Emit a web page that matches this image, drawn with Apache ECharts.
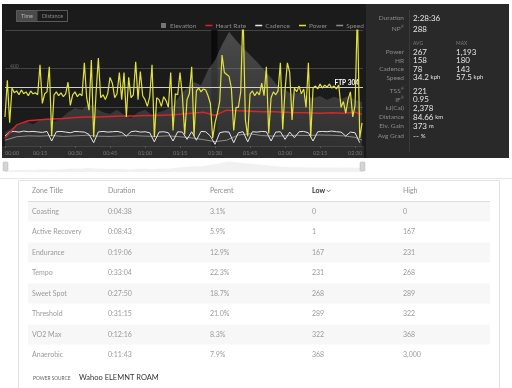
<!DOCTYPE html>
<html><head><meta charset="utf-8">
<script src="https://cdn.jsdelivr.net/npm/echarts@6/dist/echarts.min.js"></script>
<style>html,body{margin:0;padding:0;background:#fff}#c{width:512px;height:388px}</style>
</head><body><div id="c"></div>
<script>
// ---------- DATA ----------
const xTickMinutes = [0,15,30,45,60,75,90,105,120,135,150];
const xTickLabels = ['00:00','00:15','00:30','00:45','01:00','01:15','01:30','01:45','02:00','02:15','02:30'];
const powerTickValues = [400];
const ftpValue = 304;
// power, one value per minute from 00:00
const power = [150,340,120,300,275,285,265,290,270,280,
 260,285,270,275,265,420,220,270,280,410,
 50,265,280,260,275,255,270,330,210,265,
 280,255,270,260,430,250,185,445,45,270,
 455,250,265,240,270,355,325,250,270,380,
 240,380,150,355,250,265,435,240,385,260,
 240,205,255,420,45,250,240,205,255,235,
 200,380,80,270,265,380,260,60,240,270,
 410,50,285,300,280,295,290,260,220,40,
 120,170,230,470,380,370,360,300,80,200,
 200,280,700,135,50,270,285,260,280,265,
 325,260,410,65,250,280,265,285,430,85,
 290,430,380,135,300,280,310,270,295,200,
 430,45,300,310,295,320,300,315,305,320,
 300,310,295,315,200,230,170,240,280,150,
 210,700,40,120];
// elevation, one value every 3 minutes
const elevation = [30,39,45,52,47,56,60,52,60,73,
 82,78,91,82,73,69,78,67,60,73,
 78,67,73,78,86,110,125,138,131,164,
 185,218,246,228,211,196,181,164,147,129,
 121,112,116,108,103,108,99,106,101,108,
 99,95];
// cadence, one value every 2 minutes
const cadence = [60,85,88,84,90,86,88,85,82,88,
 30,86,88,84,80,88,86,84,70,20,
 85,88,84,86,88,82,60,86,90,84,
 86,80,25,84,86,80,30,86,84,40,
 86,35,88,86,60,10,80,86,84,20,
 80,86,25,86,84,88,86,30,84,86,
 40,84,50,86,88,80,30,86,88,86,
 90,86,84,60,84,80,20];
const hrTimes = [0,5,10,15,20,25,30,35,40,45,50,55,60,65,70,75,80,85,90,95,100,105,110,115,120,125,130,135,140,145,150,153];
const heartRate = [115,140,148,150,151,152,154,155,155,156,157,157,158,158,159,160,162,164,158,168,167,166,165,165,164,163,163,162,163,162,164,160];
const speed = [20,32,35,34,36,33,35,37,34,33,35,36,34,33,35,32,28,22,15,20,38,42,36,34,35,37,36,38,37,35,30,20];
const pauseRange = [88.4, 91.0];

const legendNames = ['Elevation','Heart Rate','Cadence','Power','Speed'];

const summaryLabels = ['Duration','NP'];
const summarySup = [false,true];
const summaryValues = ['2:28:36','288'];
const metricLabels = ['Power','HR','Cadence','Speed'];
const metricAvg = ['267','158','78','34.2'];
const metricMax = ['1,193','180','143','57.5'];
const metricUnits = ['','','','kph'];
const extraLabels = ['TSS','IF','kJ(Cal)','Distance','Elv. Gain','Avg Grad'];
const extraSup = [true,true,false,false,false,false];
const extraValues = ['221','0.95','2,378','84.66','373','--'];
const extraUnits = ['','','','km','m','%'];

const zoneHeaders = ['Zone Title','Duration','Percent','Low','High'];
const zoneNames = ['Coasting','Active Recovery','Endurance','Tempo','Sweet Spot','Threshold','VO2 Max','Anaerobic'];
const zoneDurations = ['0:04:38','0:08:43','0:19:06','0:33:04','0:27:50','0:31:15','0:12:16','0:11:43'];
const zonePercents = ['3.1%','5.9%','12.9%','22.3%','18.7%','21.0%','8.3%','7.9%'];
const zoneLows = ['0','1','167','231','268','289','322','368'];
const zoneHighs = ['0','167','231','268','289','322','368','3,000'];
const powerSourceLabel = 'POWER SOURCE';
const powerSource = 'Wahoo ELEMNT ROAM';

// ---------- RENDER ----------
const FONT = 'Lato, "Open Sans", sans-serif';
const chart = echarts.init(document.getElementById('c'), null, {renderer:'canvas'});

function T(text, x, y, o) {
  o = o || {};
  return {type:'text', x:x, y:y, z:100, silent:true, style:{
    text:text, fill:o.fill||'#999', fontSize:o.size||7, fontFamily:FONT,
    fontWeight:o.weight||'normal', textAlign:o.align||'left', align:o.align||'left',
    textVerticalAlign:'middle', verticalAlign:'middle', rich:o.rich}};
}
const g = [];
// dark panel
g.push({type:'rect', z:-10, silent:true, shape:{x:2,y:4,width:507,height:154}, style:{fill:'#1b1b1b'}});
g.push({type:'rect', z:-9, silent:true, shape:{x:2,y:146,width:362,height:12}, style:{fill:'#2c2c2c'}});
g.push({type:'rect', z:-9, silent:true, shape:{x:366,y:4,width:143,height:154}, style:{fill:'#292929'}});
g.push({type:'line', z:-8, silent:true, shape:{x1:409.5,y1:10,x2:409.5,y2:152}, style:{stroke:'#3a3a3a',lineWidth:1}});
// time/distance toggle
g.push({type:'rect', z:5, silent:true, shape:{x:16.5,y:10.5,width:51,height:11}, style:{fill:'none',stroke:'#5a5a5a',lineWidth:1}});
g.push({type:'rect', z:4, silent:true, shape:{x:16.5,y:10.5,width:21,height:11}, style:{fill:'#4a4a4a'}});
g.push(T('Time', 27, 16, {fill:'#b5b5b5', size:5.5, align:'center'}));
g.push(T('Distance', 52.5, 16, {fill:'#8a8a8a', size:5.5, align:'center'}));
// stats panel
const valRich = {v:{fill:'#e4e4e4',fontSize:8,fontFamily:FONT}, u:{fill:'#e4e4e4',fontSize:6,fontFamily:FONT}};
const labRich = {l:{fill:'#8a8a8a',fontSize:6.5,fontFamily:FONT}, s:{fill:'#8a8a8a',fontSize:4,fontFamily:FONT,verticalAlign:'top',padding:[0,0,4,0]}};
function lab(text, sup) { return sup ? '{l|'+text+'}{s|®}' : '{l|'+text+'}'; }
function val(v, u) { return u ? '{v|'+v+'} {u|'+u+'}' : '{v|'+v+'}'; }
const sumY = [18, 29];
summaryLabels.forEach((l,i)=>{
  g.push(T(lab(l, summarySup[i]), 404, sumY[i], {align:'right', rich:labRich}));
  g.push(T(val(summaryValues[i]), 413, sumY[i], {rich:valRich}));
});
g.push(T('AVG', 413, 43, {fill:'#7a7a7a', size:5}));
g.push(T('MAX', 456, 43, {fill:'#7a7a7a', size:5}));
const metY = [52, 60.5, 69, 77.5];
metricLabels.forEach((l,i)=>{
  g.push(T(lab(l,false), 404, metY[i], {align:'right', rich:labRich}));
  g.push(T(val(metricAvg[i], metricUnits[i]), 413, metY[i], {rich:valRich}));
  g.push(T(val(metricMax[i], metricUnits[i]), 456, metY[i], {rich:valRich}));
});
const extY = [91, 99.5, 108, 117, 126, 136];
extraLabels.forEach((l,i)=>{
  g.push(T(lab(l, extraSup[i]), 404, extY[i], {align:'right', rich:labRich}));
  g.push(T(val(extraValues[i], extraUnits[i]), 413, extY[i], {rich:valRich}));
});
// overview handles
g.push({type:'rect', z:20, silent:true, shape:{x:3,y:162,width:5,height:9,r:1}, style:{fill:'#d4d4d4',stroke:'#b5b5b5',lineWidth:0.5}});
g.push({type:'rect', z:20, silent:true, shape:{x:360,y:162,width:5,height:9,r:1}, style:{fill:'#d4d4d4',stroke:'#b5b5b5',lineWidth:0.5}});
g.push({type:'line', z:-5, silent:true, shape:{x1:0,y1:178.5,x2:512,y2:178.5}, style:{stroke:'#e6e6e6',lineWidth:1}});
// table card
g.push({type:'rect', z:-10, silent:true, shape:{x:18.5,y:180.5,width:481,height:230}, style:{fill:'#fff',stroke:'#e2e2e2',lineWidth:1}});
const colX = [32, 108, 210, 312, 403];
const rowY = zoneNames.map((_,i)=>211.5 + 20.5*i);
rowY.forEach((y,i)=>{ if (i%2===0) g.push({type:'rect', z:-8, silent:true, shape:{x:28,y:y-10,width:462,height:20}, style:{fill:'#f7f7f7'}}); });
g.push({type:'line', z:-7, silent:true, shape:{x1:28,y1:201.5,x2:490,y2:201.5}, style:{stroke:'#dedede',lineWidth:1}});
zoneHeaders.forEach((h,i)=>{
  const isLow = i===3;
  g.push(T(h, colX[i], 191, {fill: isLow?'#333':'#8f8f8f', size:7, weight: isLow?'bold':'normal'}));
});
g.push({type:'polyline', z:100, silent:true, shape:{points:[[326.5,189.8],[328.5,191.8],[330.5,189.8]]}, style:{stroke:'#555',lineWidth:0.8,fill:'none'}});
zoneNames.forEach((n,i)=>{
  const cols = [n, zoneDurations[i], zonePercents[i], zoneLows[i], zoneHighs[i]];
  cols.forEach((c,j)=> g.push(T(c, colX[j], rowY[i], {fill:'#9a9a9a', size:7})));
});
g.push(T(powerSourceLabel, 33, 378.5, {fill:'#666', size:4.8}));
g.push(T(powerSource, 79, 378, {fill:'#333', size:7.5}));

const lineIcon = 'path://M0,0h0.1v0.1h-0.1z M0,4h10v2h-10z M9.9,9.9h0.1v0.1h-0.1z';
const sqIcon = 'path://M0,0h0.1v0.1h-0.1z M1.5,1.5h7v7h-7z M9.9,9.9h0.1v0.1h-0.1z';

const option = {
  animation:false,
  backgroundColor:'#ffffff',
  textStyle:{fontFamily:FONT},
  legend:{
    left:155, top:17, itemGap:9, itemWidth:7, itemHeight:7,
    itemStyle:{borderWidth:0},
    textStyle:{color:'#8a8a8a', fontSize:6.5, fontFamily:FONT, padding:[0,0,0,-2]},
    data: legendNames.map((n,i)=>({name:n, icon: i===0?sqIcon:lineIcon}))
  },
  grid:[
    {left:5, right:149, top:30, bottom:242, containLabel:false},
    {left:5, right:149, top:161, height:16, containLabel:false}
  ],
  xAxis:[
    {type:'value', gridIndex:0, min:0, max:153.4,
     axisLine:{show:false}, splitLine:{show:false},
     axisTick:{show:true, length:2, lineStyle:{color:'#555'}, customValues:xTickMinutes},
     axisLabel:{color:'#777', fontSize:5.5, margin:4, customValues:xTickMinutes, alignMinLabel:'left',
       formatter:(v)=>{ const k = xTickMinutes.indexOf(Math.round(v)); return k>=0 ? xTickLabels[k] : ''; }}},
    {type:'value', gridIndex:1, min:0, max:153.4, show:false}
  ],
  yAxis:[
    {type:'value', gridIndex:0, min:0, max:600, interval:200,
     axisLine:{show:false}, axisTick:{show:false},
     splitLine:{show:true, lineStyle:{color:'#444', width:1}},
     axisLabel:{inside:true, customValues:powerTickValues, color:'#666', fontSize:5, margin:5, verticalAlign:'bottom'}},
    {type:'value', gridIndex:0, min:0, max:250, show:false, splitLine:{show:false}},
    {type:'value', gridIndex:0, min:0, max:700, show:false, splitLine:{show:false}},
    {type:'value', gridIndex:0, min:100, max:320, show:false, splitLine:{show:false}},
    {type:'value', gridIndex:0, min:0, max:400, show:false, splitLine:{show:false}},
    {type:'value', gridIndex:1, min:-120, max:260, show:false, splitLine:{show:false}}
  ],
  series:[
    {name:'Elevation', type:'line', xAxisIndex:0, yAxisIndex:1, z:1, symbol:'none',
     data: elevation.map((v,i)=>[i*3, v]),
     lineStyle:{width:0}, itemStyle:{color:'#777'},
     areaStyle:{color:new echarts.graphic.LinearGradient(0,0,0,1,[{offset:0,color:'rgba(150,150,150,0.55)'},{offset:1,color:'rgba(100,100,100,0.42)'}])},
     markArea:{silent:true, itemStyle:{color:'rgba(8,8,8,0.85)'}, data:[[{xAxis:pauseRange[0]},{xAxis:pauseRange[1]}]]}},
    {name:'Speed', type:'line', xAxisIndex:0, yAxisIndex:4, z:2, symbol:'none',
     data: hrTimes.map((t,i)=>[t, speed[i]]),
     lineStyle:{color:'#8d8d8d', width:1}, itemStyle:{color:'#8d8d8d'}},
    {name:'Cadence', type:'line', xAxisIndex:0, yAxisIndex:2, z:3, symbol:'none',
     data: cadence.map((v,i)=>[i*2, v]),
     lineStyle:{color:'#e6e6e6', width:1}, itemStyle:{color:'#e6e6e6'}},
    {name:'Heart Rate', type:'line', xAxisIndex:0, yAxisIndex:3, z:4, symbol:'none',
     data: hrTimes.map((t,i)=>[t, heartRate[i]]),
     lineStyle:{color:'#d4262d', width:1.5}, itemStyle:{color:'#d4262d'}},
    {name:'Power', type:'line', xAxisIndex:0, yAxisIndex:0, z:5, symbol:'none',
     data: power.map((v,i)=>[i, v]),
     lineStyle:{color:'#e2e23e', width:1.2}, itemStyle:{color:'#e2e23e'},
     markLine:{silent:true, symbol:'none', lineStyle:{color:'#cfcfcf', width:1, type:'solid'},
       label:{show:true, position:'insideEndTop', formatter:'FTP '+ftpValue, color:'#fff', fontSize:6.5, fontWeight:'bold', fontFamily:FONT, distance:[4,1]},
       data:[{yAxis:ftpValue}]}},
    {name:'overview', type:'line', xAxisIndex:1, yAxisIndex:5, symbol:'none', silent:true,
     data: elevation.map((v,i)=>[i*3, v]),
     lineStyle:{width:0}, areaStyle:{color:'#ebebeb'}, itemStyle:{color:'#ebebeb'}}
  ],
  graphic:{elements:g}
};
chart.setOption(option);
</script></body></html>
